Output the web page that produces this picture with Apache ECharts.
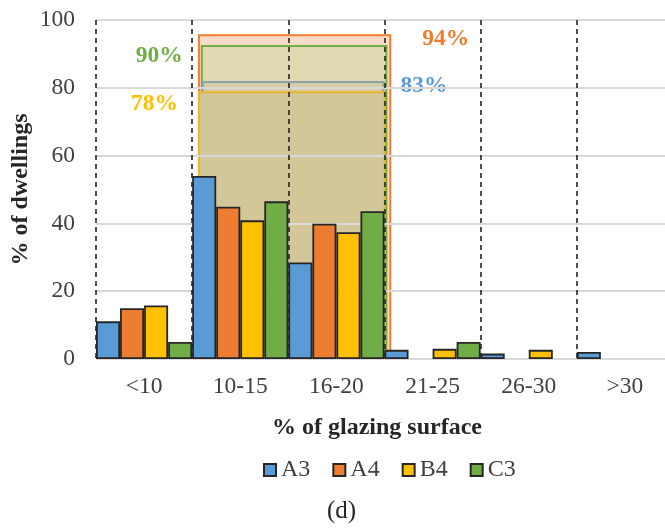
<!DOCTYPE html>
<html>
<head>
<meta charset="utf-8">
<script src="https://cdn.jsdelivr.net/npm/echarts@6/dist/echarts.min.js"></script>
<style>
html,body{margin:0;padding:0;background:#fff;overflow:hidden;}
#chart{width:665px;height:529px;}
</style>
</head>
<body>
<div id="chart"></div>
<script>
// ---- data ----
const categories = ['<10', '10-15', '16-20', '21-25', '26-30', '>30'];
const seriesNames = ['A3', 'A4', 'B4', 'C3'];
const a3 = [11.1, 54.0, 28.5, 2.7, 1.6, 2.1];
const a4 = [15.0, 44.9, 39.9, null, null, null];
const b4 = [15.8, 40.9, 37.4, 3.0, 2.7, null];
const c3 = [5.0, 46.5, 43.6, 5.0, null, null];
const yTicks = [0, 20, 40, 60, 80, 100];
// cumulative share (10-20 % glazing) boxes, in category units along x
const boxSeries = ['A4', 'C3', 'A3', 'B4'];
const boxStart = [1.07, 1.10, 1.11, 1.07];
const boxEnd = [3.06, 3.02, 2.99, 3.00];
const boxTop = [95.5, 92.3, 81.7, 78.7];
const boxLabels = ['94%', '90%', '83%', '78%'];

// ---- styles ----
const colors = {A3: '#5b9bd5', A4: '#ed7d31', B4: '#ffc000', C3: '#70ad47'};
const boxFill = {A4: '#fbdcc9', C3: '#e0d9b1', A3: '#d7cda4', B4: '#d3c79a'};
const boxStroke = {A4: '#ed7d31', C3: '#70ad47', A3: '#8aa2ae', B4: '#ecb530'};
// label placement relative to box: side, dx, dy (px)
const boxLabelPos = {
  A4: {side: 'right', dx: 32, dy: 4},
  C3: {side: 'left', dx: -19, dy: 10},
  A3: {side: 'right', dx: 17, dy: 4},
  B4: {side: 'left', dx: -21, dy: 12}
};
const serif = '"Liberation Serif", "Times New Roman", serif';

const seriesData = [a3, a4, b4, c3];
const barSeries = seriesNames.map((n, i) => ({
  name: n,
  type: 'bar',
  xAxisIndex: 0,
  yAxisIndex: 0,
  data: seriesData[i],
  barGap: '0%',
  barCategoryGap: '0%',
  z: 4,
  itemStyle: {color: colors[n], borderColor: '#262626', borderWidth: 1.8},
  emphasis: {disabled: true}
}));

const boxData = boxSeries.map((n, i) => [boxStart[i], boxEnd[i], boxTop[i], i]);

const boxCustom = {
  type: 'custom',
  xAxisIndex: 1,
  yAxisIndex: 0,
  z: -1,
  silent: true,
  data: boxData,
  encode: {x: [0, 1], y: 2},
  renderItem: function (params, api) {
    const idx = api.value(3);
    const name = boxSeries[idx];
    const p0 = api.coord([api.value(0), api.value(2)]);
    const p1 = api.coord([api.value(1), 0]);
    const pos = boxLabelPos[name];
    const lx = pos.side === 'right' ? p1[0] + pos.dx : p0[0] + pos.dx;
    return {
      type: 'group',
      children: [
        {
          type: 'rect',
          shape: {x: p0[0], y: p0[1], width: p1[0] - p0[0], height: p1[1] - p0[1]},
          style: {fill: boxFill[name], stroke: boxStroke[name], lineWidth: 2}
        },
        {
          type: 'text',
          style: {
            text: boxLabels[idx],
            x: lx,
            y: p0[1] + pos.dy,
            fill: colors[name],
            font: 'bold 23.5px ' + serif,
            align: pos.side === 'right' ? 'left' : 'right',
            verticalAlign: 'middle'
          }
        }
      ]
    };
  }
};

const chart = echarts.init(document.getElementById('chart'), null, {renderer: 'canvas'});
chart.setOption({
  animation: false,
  backgroundColor: '#fff',
  textStyle: {fontFamily: serif},
  title: {
    text: '(d)',
    left: 327,
    top: 499,
    padding: 0,
    textStyle: {fontFamily: serif, fontSize: 25, fontWeight: 'normal', color: '#262626'}
  },
  legend: {
    data: seriesNames,
    left: 263,
    top: 458,
    icon: 'rect',
    itemWidth: 12,
    itemHeight: 12,
    itemGap: 22,
    padding: 0,
    textStyle: {fontFamily: serif, fontSize: 24, color: '#404040'}
  },
  grid: {left: 96, width: 577, top: 20, height: 339, containLabel: false, outerBoundsMode: 'none'},
  xAxis: [
    {
      type: 'category',
      data: categories,
      boundaryGap: true,
      z: 1,
      axisLine: {show: false},
      axisTick: {show: false},
      axisLabel: {fontFamily: serif, fontSize: 23.5, color: '#404040', margin: 16, interval: 0},
      splitLine: {show: true, interval: 0, lineStyle: {color: '#222', width: 1.6, type: [5, 4]}},
      name: '% of glazing surface',
      nameLocation: 'middle',
      nameGap: 57,
      nameMoveOverlap: false,
      nameTextStyle: {fontFamily: serif, fontSize: 24, fontWeight: 'bold', color: '#262626', padding: [0, 15, 0, 0]}
    },
    {
      type: 'value',
      min: 0,
      max: 6,
      show: false
    }
  ],
  yAxis: {
    type: 'value',
    min: yTicks[0],
    max: yTicks[yTicks.length - 1],
    interval: 20,
    z: 1,
    axisLine: {show: false},
    axisTick: {show: false},
    axisLabel: {fontFamily: serif, fontSize: 23.5, color: '#404040', margin: 21},
    splitLine: {show: true, lineStyle: {color: '#d9d9d9', width: 2}},
    name: '% of dwellings',
    nameLocation: 'middle',
    nameGap: 63,
    nameRotate: 90,
    nameMoveOverlap: false,
    nameTextStyle: {fontFamily: serif, fontSize: 24, fontWeight: 'bold', color: '#262626'}
  },
  series: [boxCustom].concat(barSeries)
});
</script>
</body>
</html>
